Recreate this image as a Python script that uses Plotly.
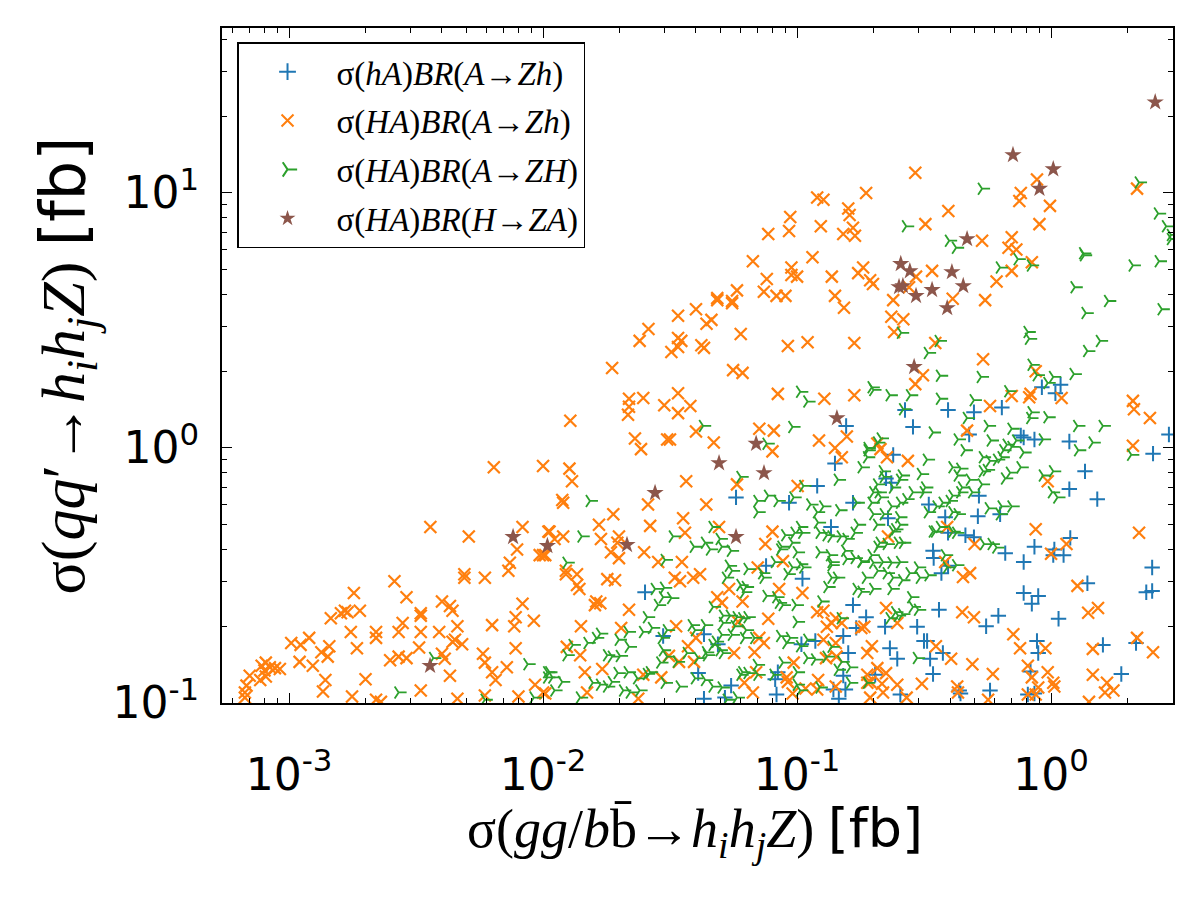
import plotly.graph_objects as go

# ---------------- data ----------------
# sigma(hA) BR(A->Zh)
hA_AZh_x = [0.156,0.141,0.12,0.0575,0.093,0.166,0.136,0.0755,0.105,0.0252,0.166,0.187,0.171,0.0297,0.043,0.0488,0.104,0.118,0.152,0.159,
            0.0408,0.084,0.152,0.055,0.082,0.139,0.155,0.083,0.043,0.052,0.146,0.266,0.393,0.497,0.286,0.64,0.92,1.09,1.04,0.476,
            0.76,0.78,0.86,1.18,2.91,2.52,0.239,1.36,0.224,0.235,1.18,1.52,0.52,0.33,0.63,0.515,0.383,0.228,0.393,0.46,
            0.497,1.19,0.86,0.66,0.78,1.03,1.02,1.12,0.343,0.345,0.393,0.37,2.5,1.39,2.37,2.5,0.78,0.89,0.84,0.362,
            0.62,1.07,0.222,0.297,0.555,0.316,0.325,0.88,0.232,0.334,0.375,0.89,1.6,2.16,0.248,0.343,0.203,0.83,1.89,0.435,
            0.575,0.44,0.255,0.81,0.86]
hA_AZh_y = [1.22,0.87,0.71,0.64,0.61,0.61,0.49,0.345,0.307,0.272,0.242,0.217,0.197,0.183,0.186,0.17,0.17,0.175,0.183,0.157,
            0.131,0.132,0.128,0.117,0.124,0.113,0.113,0.108,0.104,0.105,0.104,1.41,1.41,1.38,1.21,1.44,1.73,1.77,1.64,1.13,
            1.12,1.10,1.08,1.06,1.13,0.95,0.94,0.81,0.76,0.73,0.69,0.63,0.65,0.60,0.55,0.54,0.535,0.53,0.465,0.455,
            0.447,0.444,0.41,0.387,0.357,0.40,0.38,0.38,0.395,0.37,0.345,0.323,0.34,0.295,0.272,0.275,0.27,0.263,0.245,0.232,
            0.22,0.214,0.199,0.199,0.20,0.175,0.175,0.175,0.164,0.149,0.157,0.157,0.169,0.172,0.149,0.13,0.129,0.133,0.13,0.112,
            0.112,0.109,0.108,0.108,0.109]

# sigma(HA) BR(A->Zh)
HA_AZh_x = [0.0064,0.0100,0.0036,0.0051,0.0083,0.0105,0.0079,0.0097,0.0102,0.0074,0.0073,0.0049,0.0049,0.0059,0.0026,0.0029,0.0018,0.0083,0.0040,0.0043,
            0.0044,0.0033,0.0033,0.00166,0.0019,0.0016,0.00146,0.0017,0.0078,0.0077,0.0092,0.0028,0.0063,0.0046,0.00175,0.0022,0.0022,0.0027,0.0033,0.0039,
            0.0012,0.00102,0.00111,0.00144,0.00134,0.00185,0.00325,0.0044,0.0045,0.0048,0.0078,0.00142,0.0025,0.0027,0.0029,0.0040,0.0041,0.0011,0.00124,0.0058,
            0.0059,0.0072,0.0063,0.0065,0.00081,0.00078,0.00084,0.00080,0.00092,0.00088,0.00070,0.00081,0.00077,0.00068,0.00067,0.00067,0.00139,0.00136,0.0020,0.0043,
            0.0033,0.00177,0.0022,0.0023,0.0046,0.0059,0.0080,0.0093,0.0102,
            0.040,0.034,0.0485,0.0555,0.044,0.046,0.153,0.026,0.024,0.034,0.035,0.034,0.032,0.042,0.043,0.060,0.092,0.110,0.168,0.0187,
            0.056,0.061,0.0218,0.0248,0.0218,0.0216,0.034,0.030,0.038,0.034,0.084,0.128,0.168,0.0128,0.023,0.0243,0.0308,0.0316,0.040,0.047,
            0.071,0.081,0.122,0.157,0.080,0.141,0.150,0.0127,0.013,0.0366,0.058,0.1005,0.0119,
            0.120,0.127,0.187,0.159,0.161,0.094,0.093,0.077,0.124,0.152,0.166,0.169,0.067,0.115,0.095,0.095,0.100,0.076,0.137,0.174,
            0.182,0.194,0.058,0.0485,0.0555,0.074,0.083,0.090,0.141,
            0.292,0.32,0.394,0.88,0.76,0.75,0.99,0.90,0.70,0.68,0.73,0.535,0.84,0.70,0.34,0.294,0.276,0.199,0.239,0.41,
            0.55,0.61,0.235,0.262,0.241,0.35,0.54,2.18,
            0.313,0.292,0.87,0.70,0.83,0.82,1.1,0.575,0.467,2.1,2.12,2.45,2.1,0.207,0.213,0.226,0.273,0.97,0.39,0.87,
            2.22,0.228,
            0.50,1.0,1.15,0.383,0.45,0.48,1.27,0.224,0.248,0.447,0.497,1.4,1.53,0.184,0.71,2.18,0.197,0.189,0.352,0.404,
            0.755,0.95,1.46,2.52,0.49,0.81,0.97,1.46,0.59,0.84,0.189,0.207,0.224,0.194,0.216,0.218,0.248,0.31,1.02,1.03,
            1.66,1.63,1.76,0.89,0.87,0.81,0.427,0.43,0.27,0.565,1.41,0.194,
            0.0120,0.0259,0.0439,0.0189,0.0166,0.0264,0.0356,0.0493,0.0106,0.012,0.0111,0.0169,0.0199,0.0196,0.0362,0.080,0.075,0.0185,0.0199,0.025,
            0.0100,0.0284,0.0352,0.088,0.0123,0.0123,0.0136,0.0136,0.0139,0.0179,0.0192,0.033,0.0346,0.039,0.0415,0.070,0.0485,0.054,0.0506,0.061,
            0.085,0.105,0.0162,0.016,0.0168,0.0218,0.0141,0.0203,0.0334,0.0586,0.077,0.120,0.127,0.131,0.137,0.142,0.150,0.179,0.0124,0.014,
            0.040,0.0372,0.071,0.074,0.127,0.142,0.0565,0.068,0.0313,0.0343,0.0393,0.13,0.143,0.097,0.0146,0.0171,0.0248,0.0292,0.069,0.091,
            0.092,0.121,0.062,0.0100,0.0149,0.0237,0.067,0.108,0.12,0.142,0.096,0.189]
HA_AZh_y = [0.84,0.85,0.49,0.45,0.49,0.47,0.40,0.38,0.38,0.355,0.33,0.32,0.31,0.31,0.30,0.26,0.27,0.245,0.25,0.24,
            0.23,0.225,0.22,0.23,0.23,0.225,0.215,0.227,0.217,0.20,0.21,0.206,0.202,0.20,0.19,0.19,0.18,0.19,0.19,0.19,
            0.18,0.172,0.169,0.167,0.158,0.164,0.165,0.174,0.177,0.17,0.164,0.152,0.147,0.152,0.15,0.156,0.149,0.145,0.14,0.156,
            0.144,0.138,0.132,0.123,0.144,0.14,0.138,0.134,0.136,0.137,0.128,0.127,0.123,0.117,0.110,0.105,0.123,0.111,0.124,0.128,
            0.112,0.106,0.103,0.101,0.104,0.107,0.106,0.118,0.109,
            3.5,3.3,3.8,3.7,3.07,3.18,3.55,2.93,2.63,2.7,2.63,2.49,2.38,2.53,2.47,2.8,2.51,2.6,2.58,2.06,
            2.02,1.97,1.56,1.57,1.45,1.35,1.64,1.47,1.46,1.37,1.63,1.56,1.61,1.28,1.09,0.99,1.08,1.08,1.16,1.05,
            1.19,1.17,1.07,1.11,0.97,1.0,0.92,0.83,0.74,0.74,0.72,0.71,0.625,
            9.6,9.4,10.0,8.7,8.2,8.05,7.1,6.9,7.4,6.9,7.3,6.8,5.4,5.6,5.1,4.77,4.7,4.6,4.7,4.85,
            5.1,4.55,4.15,3.87,3.77,4.1,3.95,3.95,3.95,
            12.0,7.55,8.5,11.3,10.0,9.3,8.9,7.55,6.7,6.1,6.0,6.5,5.35,4.95,4.95,4.7,4.27,4.4,3.8,3.85,
            3.8,4.5,3.27,3.2,2.85,2.58,2.23,10.4,
            1.93,1.78,2.0,1.6,1.63,1.58,1.57,1.46,1.17,1.53,1.42,1.31,1.02,1.04,0.99,0.92,0.89,0.74,0.49,0.48,
            0.465,0.45,
            0.42,0.385,0.42,0.357,0.312,0.323,0.288,0.236,0.206,0.227,0.217,0.226,0.236,0.199,0.186,0.18,0.167,0.157,0.167,0.149,
            0.164,0.164,0.163,0.158,0.142,0.14,0.132,0.129,0.13,0.126,0.129,0.137,0.131,0.121,0.119,0.11,0.118,0.119,0.12,0.116,
            0.12,0.11,0.112,0.115,0.108,0.108,0.116,0.11,0.105,0.103,0.101,0.105,
            0.61,0.60,0.60,0.55,0.50,0.495,0.53,0.49,0.47,0.45,0.44,0.44,0.45,0.425,0.465,0.47,0.42,0.39,0.37,0.39,
            0.38,0.357,0.357,0.36,0.33,0.32,0.32,0.29,0.28,0.306,0.303,0.31,0.30,0.31,0.32,0.34,0.26,0.28,0.247,0.25,
            0.28,0.27,0.25,0.242,0.246,0.232,0.20,0.197,0.20,0.208,0.214,0.227,0.23,0.199,0.206,0.215,0.206,0.197,0.166,0.154,
            0.18,0.167,0.18,0.172,0.177,0.172,0.157,0.158,0.153,0.145,0.145,0.15,0.152,0.144,0.132,0.136,0.129,0.126,0.132,0.126,
            0.121,0.123,0.12,0.11,0.11,0.104,0.11,0.114,0.113,0.116,0.109,0.12]

# sigma(HA) BR(A->ZH)
HA_AZH_x = [0.535,0.269,0.397,0.423,0.74,0.63,0.835,1.34,1.35,1.24,1.68,1.37,2.1,2.66,2.22,2.64,2.84,2.97,2.97,2.73,
            0.81,0.82,1.56,1.39,0.362,0.328,0.257,0.84,
            0.88,1.02,1.23,0.97,0.366,0.53,0.197,0.2,0.232,0.279,0.366,0.497,0.68,0.84,0.83,0.97,0.262,0.467,0.565,0.70,1.27,1.6,
            0.343,0.43,0.58,0.73,0.93,0.214,0.207,0.19,0.189,0.18,0.458,0.65,0.67,0.70,0.78,0.64,0.614,0.575,0.54,0.325,
            0.41,0.44,0.54,0.56,0.76,0.69,0.66,0.43,0.308,0.259,0.255,0.218,0.22,0.207,0.21,0.2,0.214,0.197,0.239,0.286,
            0.316,0.32,0.447,0.48,0.535,0.49,0.44,0.41,0.40,0.375,0.355,0.328,0.27,0.255,0.236,0.2,0.22,0.253,0.255,0.244,
            0.207,0.41,0.43,0.57,0.64,0.70,0.63,0.343,0.366,0.41,0.93,1.02,1.01,1.06,1.28,1.46,2.07,
            0.212,0.208,0.226,0.25,0.262,0.239,0.35,0.424,0.545,0.585,0.61,0.18,0.197,0.2,0.218,0.236,0.255,0.208,0.226,0.239,
            0.26,0.278,0.30,0.305,0.33,0.383,0.39,0.424,0.2,0.236,0.18,0.282,0.286,0.30,0.244,0.25,0.232,0.26,0.297,0.189,
            0.0153,0.070,0.077,0.084,0.070,0.097,0.113,0.12,0.127,0.147,0.121,0.172,0.174,0.169,0.123,0.131,0.137,0.149,0.157,0.103,
            0.105,0.098,0.090,0.096,0.087,0.086,0.1,0.123,0.135,0.137,0.137,0.155,0.169,0.18,0.157,0.0142,0.0325,0.0393,0.0435,0.0455,
            0.0497,0.0506,0.055,0.0466,0.0302,0.0124,0.054,0.0555,0.064,0.074,0.073,0.103,0.106,0.096,0.092,0.082,0.137,0.144,0.132,0.172,
            0.187,0.0526,0.060,0.063,0.062,0.076,0.083,0.085,0.088,0.099,0.1,0.125,0.149,0.0467,0.0512,0.0545,0.058,0.061,0.064,0.0512,
            0.057,0.063,0.0506,0.0555,0.062,0.068,0.086,0.094,0.091,0.103,0.11,0.0276,0.030,0.0297,0.032,0.0284,0.0257,0.0269,0.0308,0.0294,
            0.0386,0.0397,0.0435,0.0466,0.048,0.0439,0.0497,0.0512,0.0408,0.0443,0.0369,0.0297,0.0308,0.0337,0.029,0.0179,0.0187,0.0201,0.0218,0.0199,
            0.0216,0.0168,0.0162,0.015,0.0131,0.0124,0.0104,0.0109,0.0119,0.0111,0.014,0.0157,0.0168,0.0179,0.0187,0.0197,0.0216,0.0235,0.022,0.0207,
            0.024,0.0257,0.0264,0.0302,0.0346,0.0397,0.0435,0.0466,0.0506,0.061,0.064,0.0696,0.06,0.070,0.053,0.058,0.1,0.103,0.123,0.1,
            0.081,0.088,0.145,0.162,0.131,0.11,0.118,0.137,0.15,0.162,0.0248,
            0.0037,0.0027,0.0087,0.0104,0.0106,0.0092,0.0059,
            0.0427,0.103,0.11,0.096,0.076,0.060,0.145,0.19,0.106]
HA_AZH_y = [10.4,7.4,6.5,6.1,5.5,5.1,5.2,5.8,5.7,4.27,3.77,3.38,5.2,5.4,11.0,8.3,7.4,6.85,6.6,3.5,
            2.85,2.68,2.63,2.4,2.63,2.36,2.83,2.12,
            1.93,1.9,1.95,1.8,1.92,1.9,1.73,1.69,1.61,1.61,1.56,1.54,1.67,1.38,1.31,1.32,1.42,1.31,1.22,1.19,1.22,1.22,
            1.15,1.08,1.07,1.07,1.08,1.09,1.05,0.98,0.92,0.84,0.98,0.98,1.03,1.01,0.96,0.92,0.90,0.89,0.92,0.9,
            0.84,0.83,0.81,0.82,0.84,0.80,0.76,0.78,0.79,0.78,0.75,0.81,0.77,0.72,0.67,0.67,0.64,0.61,0.70,0.67,
            0.67,0.70,0.70,0.75,0.72,0.67,0.67,0.65,0.62,0.61,0.59,0.56,0.63,0.61,0.59,0.55,0.55,0.535,0.50,0.48,
            0.5,0.56,0.55,0.58,0.59,0.59,0.55,0.47,0.49,0.47,0.78,0.81,0.67,0.64,0.98,1.05,0.94,
            0.425,0.41,0.42,0.425,0.425,0.47,0.47,0.465,0.42,0.42,0.407,0.357,0.38,0.355,0.357,0.355,0.357,0.33,0.323,0.31,
            0.303,0.323,0.34,0.31,0.317,0.38,0.34,0.347,0.28,0.28,0.273,0.26,0.238,0.232,0.227,0.22,0.215,0.223,0.15,0.12,
            0.62,0.62,0.65,0.62,0.56,0.64,0.60,0.56,0.59,0.57,0.51,0.61,0.50,0.465,0.465,0.455,0.45,0.45,0.44,0.49,
            0.465,0.465,0.455,0.425,0.41,0.40,0.39,0.39,0.38,0.357,0.347,0.395,0.37,0.36,0.367,0.45,0.45,0.41,0.425,0.40,
            0.44,0.41,0.395,0.49,0.364,0.355,0.345,0.33,0.335,0.31,0.323,0.35,0.34,0.34,0.32,0.357,0.31,0.31,0.285,0.28,
            0.31,0.31,0.29,0.285,0.272,0.263,0.26,0.247,0.242,0.242,0.208,0.25,0.215,0.238,0.22,0.22,0.217,0.215,0.217,0.206,
            0.2,0.193,0.185,0.185,0.18,0.18,0.183,0.18,0.172,0.167,0.177,0.28,0.283,0.26,0.258,0.242,0.217,0.197,0.193,0.18,
            0.202,0.193,0.202,0.169,0.174,0.158,0.161,0.157,0.15,0.154,0.157,0.161,0.152,0.145,0.144,0.154,0.152,0.153,0.166,0.177,
            0.19,0.187,0.18,0.172,0.169,0.154,0.132,0.126,0.121,0.112,0.105,0.12,0.118,0.116,0.121,0.131,0.132,0.125,0.11,0.112,
            0.112,0.13,0.132,0.12,0.116,0.125,0.123,0.116,0.115,0.132,0.131,0.141,0.129,0.129,0.103,0.105,0.118,0.112,0.115,0.132,
            0.129,0.144,0.135,0.138,0.152,0.15,0.148,0.166,0.145,0.12,0.19,
            0.15,0.11,0.142,0.126,0.132,0.105,0.103,
            1.22,1.66,1.52,1.21,1.04,0.77,0.75,1.0,0.71]

# sigma(HA) BR(H->ZA)
HA_HZA_x = [2.57,0.708,1.02,0.90,0.467,0.256,0.278,0.407,0.252,0.261,0.294,0.340,0.451,0.390,0.289,0.1435,0.069,0.0493,0.0741,0.0575,
            0.0276,0.0214,0.0104,0.00762,0.00359]
HA_HZA_y = [22.7,14.1,12.4,10.4,6.6,5.27,4.94,4.90,4.28,4.32,3.95,4.17,4.32,3.54,2.08,1.31,1.04,0.873,0.798,0.448,
            0.667,0.417,0.413,0.448,0.140]

# axis ticks
x_tick_vals = [1e-3, 1e-2, 1e-1, 1e0]
x_tick_text = ["10<sup>-3</sup>", "10<sup>-2</sup>", "10<sup>-1</sup>", "10<sup>0</sup>"]
y_tick_vals = [1e-1, 1e0, 1e1]
y_tick_text = ["10<sup>-1</sup>", "10<sup>0</sup>", "10<sup>1</sup>"]
minor_decades = [1e-4, 1e-3, 1e-2, 1e-1, 1e0, 1e1]
minor_digits = [2, 3, 4, 5, 6, 7, 8, 9]
minor_tick_vals = [d * m for d in minor_decades for m in minor_digits]

series_names = [
    "σ(<i>hA</i>)<i>BR</i>(<i>A</i>→<i>Zh</i>)",
    "σ(<i>HA</i>)<i>BR</i>(<i>A</i>→<i>Zh</i>)",
    "σ(<i>HA</i>)<i>BR</i>(<i>A</i>→<i>ZH</i>)",
    "σ(<i>HA</i>)<i>BR</i>(<i>H</i>→<i>ZA</i>)",
]

BLUE, ORANGE, GREEN, BROWN = "#1f77b4", "#ff7f0e", "#2ca02c", "#8c564b"
X_RANGE = [-3.264, 0.48]
Y_RANGE = [-1, 1.647]

fig = go.Figure()
fig.add_trace(go.Scatter(x=hA_AZh_x, y=hA_AZh_y, mode="markers", name=series_names[0], legendgroup="a",
                         marker=dict(symbol="cross-thin", size=11, line=dict(width=2, color=BLUE), color=BLUE)))
fig.add_trace(go.Scatter(x=HA_AZh_x, y=HA_AZh_y, mode="markers", name=series_names[1], legendgroup="b",
                         marker=dict(symbol="x-thin", size=12, line=dict(width=2.2, color=ORANGE), color=ORANGE)))
fig.add_trace(go.Scatter(x=HA_AZH_x, y=HA_AZH_y, mode="markers", name=series_names[2], legendgroup="c",
                         marker=dict(symbol="y-right", size=10, line=dict(width=1.8, color=GREEN), color=GREEN)))
fig.add_trace(go.Scatter(x=HA_HZA_x, y=HA_HZA_y, mode="markers", name=series_names[3], legendgroup="d",
                         marker=dict(symbol="star", size=13, color=BROWN, line=dict(width=0))))
# empty trace that only carries the mirrored (top / right) tick axes
fig.add_trace(go.Scatter(x=[], y=[], xaxis="x2", yaxis="y2", showlegend=False, hoverinfo="skip"))

minor_common = dict(ticks="inside", ticklen=5, tickwidth=1, tickcolor="black", showgrid=False,
                    tickmode="array", tickvals=minor_tick_vals)
tick_common = dict(
    type="log", showgrid=False, zeroline=False,
    ticks="inside", ticklen=10, tickwidth=1, tickcolor="black",
    minor=minor_common,
    tickfont=dict(family="DejaVu Sans", size=44, color="black"),
)
fig.update_layout(
    xaxis=dict(**tick_common, range=X_RANGE, tickvals=x_tick_vals, ticktext=x_tick_text,
               showline=True, linecolor="black", linewidth=2, mirror=True, ticklabelstandoff=32),
    yaxis=dict(**tick_common, range=Y_RANGE, tickvals=y_tick_vals, ticktext=y_tick_text,
               showline=True, linecolor="black", linewidth=2, mirror=True, ticklabelstandoff=12),
    xaxis2=dict(**tick_common, range=X_RANGE, tickvals=x_tick_vals, overlaying="x", side="top",
                showticklabels=False, showline=False),
    yaxis2=dict(**tick_common, range=Y_RANGE, tickvals=y_tick_vals, overlaying="y", side="right",
                showticklabels=False, showline=False),
)

MATH = "Liberation Serif"
fig.add_annotation(xref="paper", yref="paper", x=0.497, y=-0.19, xanchor="center", yanchor="middle", showarrow=False,
                   text=("<span style='font-family:Liberation Serif'>σ(<i>gg</i>/<i>b</i>b̄→<i>h<sub>i</sub>h<sub>j</sub>Z</i>)</span>"
                         " <span style='font-family:DejaVu Sans'>[fb]</span>"),
                   font=dict(family=MATH, size=54, color="black"))
fig.add_annotation(xref="paper", yref="paper", x=-0.165, y=0.5, xanchor="center", yanchor="middle", showarrow=False,
                   textangle=-90,
                   text=("<span style='font-family:Liberation Serif'>σ(<i>qq</i>′→<i>h<sub>i</sub>h<sub>j</sub>Z</i>)</span>"
                         " <span style='font-family:DejaVu Sans'>[fb]</span>"),
                   font=dict(family=MATH, size=62, color="black"))

fig.update_layout(
    width=1200, height=900,
    margin=dict(l=222, r=27, t=28, b=197),
    paper_bgcolor="white", plot_bgcolor="white",
    showlegend=True,
    legend=dict(x=0.0158, y=0.979, xanchor="left", yanchor="top",
                bgcolor="white", bordercolor="black", borderwidth=1.5,
                font=dict(family=MATH, size=33, color="black"),
                tracegroupgap=3, itemwidth=88, itemsizing="constant"),
)

fig.write_html("out.html")
